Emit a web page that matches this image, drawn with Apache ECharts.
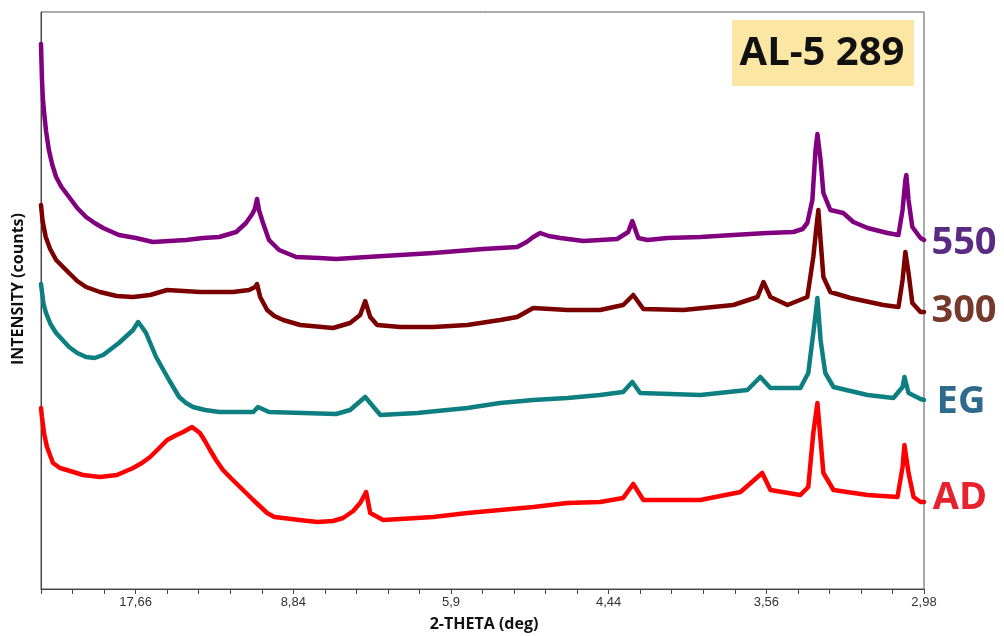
<!DOCTYPE html>
<html>
<head>
<meta charset="utf-8">
<script src="https://cdn.jsdelivr.net/npm/echarts@6/dist/echarts.min.js"></script>
<style>
html,body{margin:0;padding:0;background:#fff;}
#chart{width:1004px;height:636px;}
</style>
</head>
<body>
<div id="chart"></div>
<script>
// 2-theta (deg) positions of the labelled ticks and their d-spacing labels
const majorTicks = [5, 10, 15, 20, 25, 30];
const tickLabels = ['17,66', '8,84', '5,9', '4,44', '3,56', '2,98'];
const seriesNames = ['550', '300', 'EG', 'AD'];

// [2-theta, intensity (arbitrary, offset-stacked)]
const s550 = [[2.00,545],[2.03,510],[2.06,490],[2.10,476],[2.16,458],[2.25,439],[2.36,424],[2.48,412],[2.65,402],[2.89,392],[3.15,381],[3.43,372],[3.70,366],[3.97,361],[4.47,354],[5.01,351],[5.55,347],[6.06,348],[6.60,349],[7.14,351],[7.65,352],[8.19,357],[8.50,366],[8.70,375],[8.78,380],[8.85,390],[8.92,378],[9.04,366],[9.23,349],[9.55,339],[10.09,332],[10.82,331],[11.36,330],[12.34,332],[13.39,334],[14.44,336],[16.02,340],[17.10,342],[17.40,347],[17.61,352],[17.83,356],[18.10,353],[18.47,351],[19.20,348],[19.73,349],[20.27,350],[20.62,357],[20.75,368],[20.80,366],[20.94,351],[21.23,349],[21.86,351],[22.91,352],[23.95,354],[25.03,356],[25.86,357],[26.15,360],[26.30,366],[26.46,389],[26.56,439],[26.62,455],[26.72,429],[26.81,396],[27.03,379],[27.44,376],[27.76,367],[28.21,361],[28.84,356],[29.19,354],[29.32,379],[29.41,409],[29.44,414],[29.51,389],[29.63,362],[29.89,351],[30.00,349]];
const s300 = [[2.00,384],[2.05,368],[2.15,352],[2.29,340],[2.48,329],[2.89,316],[3.15,308],[3.43,302],[3.87,297],[4.40,293],[4.92,292],[5.46,294],[6.00,299],[7.04,297],[8.09,297],[8.60,299],[8.79,302],[8.85,305],[8.95,292],[9.17,279],[9.40,273],[9.68,269],[10.22,264],[11.26,261],[11.80,266],[12.12,274],[12.28,288],[12.44,272],[12.66,264],[13.39,262],[14.44,262],[15.52,264],[16.56,269],[17.10,272],[17.61,281],[18.69,279],[19.73,279],[20.46,284],[20.78,294],[21.10,280],[22.37,279],[23.95,284],[24.72,292],[24.91,307],[25.13,292],[25.67,284],[26.30,292],[26.49,332],[26.59,362],[26.65,379],[26.72,349],[26.81,312],[27.03,297],[27.67,291],[28.71,284],[29.19,282],[29.32,309],[29.41,337],[29.51,316],[29.63,286],[29.89,277],[30.00,277]];
const sEG = [[2.00,305],[2.08,285],[2.16,276],[2.30,265],[2.48,256],[2.89,242],[3.15,236],[3.43,232],[3.70,231],[3.97,234],[4.47,246],[4.92,259],[5.08,267],[5.20,262],[5.33,256],[5.65,232],[6.06,209],[6.38,192],[6.60,186],[6.82,182],[7.20,179],[7.65,177],[8.73,177],[8.88,182],[9.23,177],[10.31,176],[11.36,175],[11.80,179],[12.28,192],[12.76,174],[13.93,176],[15.52,181],[16.56,186],[17.61,189],[18.69,191],[19.73,194],[20.46,197],[20.75,207],[21.00,196],[22.91,194],[24.40,199],[24.81,212],[25.13,201],[26.08,201],[26.33,216],[26.49,256],[26.59,282],[26.62,291],[26.72,249],[26.87,216],[27.13,202],[28.21,194],[29.03,191],[29.32,202],[29.38,212],[29.51,196],[29.89,190],[30.00,189]];
const sAD = [[2.00,181],[2.03,172],[2.10,155],[2.19,142],[2.38,126],[2.60,121],[2.82,119],[3.33,114],[3.87,112],[4.41,114],[4.92,121],[5.20,126],[5.46,132],[5.75,141],[6.00,149],[6.30,154],[6.51,157],[6.79,162],[7.04,156],[7.20,148],[7.36,139],[7.55,129],[7.77,119],[8.05,110],[8.31,102],[8.73,89],[9.17,76],[9.40,72],[9.68,71],[10.20,69],[10.76,67],[11.26,68],[11.58,71],[11.90,78],[12.12,86],[12.31,97],[12.44,76],[12.85,69],[13.39,70],[14.44,72],[15.52,76],[16.56,79],[17.61,82],[18.69,86],[19.73,87],[20.46,91],[20.78,105],[21.10,89],[22.91,89],[24.18,97],[24.87,116],[25.13,99],[26.08,94],[26.33,102],[26.49,156],[26.62,186],[26.72,149],[26.81,116],[27.13,99],[28.21,94],[29.16,92],[29.32,122],[29.38,144],[29.51,116],[29.67,92],[29.89,87],[30.00,87]];

const lineColors = ['#800080', '#7b0000', '#0e7f80', '#ff0000'];
const labelColors = ['#5a2b82', '#763a2c', '#2e6a8a', '#e8222c'];

const chart = echarts.init(document.getElementById('chart'), null, {renderer: 'canvas'});
const dataList = [s550, s300, sEG, sAD];

const option = {
  animation: false,
  backgroundColor: '#ffffff',
  grid: {left: 41, right: 80, top: 12, bottom: 47, show: true, borderColor: '#555', borderWidth: 1, backgroundColor: 'transparent'},
  xAxis: {
    type: 'value', min: 2, max: 30, interval: 1,
    axisLine: {show: true, onZero: false, lineStyle: {color: '#444', width: 1}},
    axisTick: {show: true, length: 5, lineStyle: {color: '#444'}},
    splitLine: {show: false},
    axisLabel: {
      show: true, margin: 7, color: '#333', fontFamily: 'Liberation Sans, Arial, sans-serif', fontSize: 13,
      showMinLabel: true, showMaxLabel: true,
      formatter: function (v) {
        const i = majorTicks.indexOf(Math.round(v));
        return (i >= 0 && Math.abs(v - Math.round(v)) < 1e-6) ? tickLabels[i] : '';
      }
    }
  },
  yAxis: {
    type: 'value', min: 0, max: 577,
    axisLine: {show: true, lineStyle: {color: '#444'}},
    axisTick: {show: false}, axisLabel: {show: false}, splitLine: {show: false}
  },
  series: dataList.map((d, i) => ({
    name: seriesNames[i], type: 'line', data: d, showSymbol: false, symbol: 'none',
    lineStyle: {color: lineColors[i], width: 4.5, join: 'round', cap: 'round'},
    z: 2 + i
  })),
  graphic: [
    {type: 'rect', left: 732, top: 20, shape: {width: 182, height: 66}, style: {fill: '#fbe6a3'}, z: 10},
    {type: 'text', x: 822, y: 54, style: {text: 'AL-5 289', fill: '#111', font: 'bold 40px "Open Sans", sans-serif', textAlign: 'center', textVerticalAlign: 'middle'}, z: 11},
    {type: 'text', x: 964, y: 243, style: {text: seriesNames[0], fill: labelColors[0], font: 'bold 38px "Open Sans", sans-serif', textAlign: 'center', textVerticalAlign: 'middle'}, z: 11},
    {type: 'text', x: 964, y: 311, style: {text: seriesNames[1], fill: labelColors[1], font: 'bold 38px "Open Sans", sans-serif', textAlign: 'center', textVerticalAlign: 'middle'}, z: 11},
    {type: 'text', x: 961, y: 402, style: {text: seriesNames[2], fill: labelColors[2], font: 'bold 38px "Open Sans", sans-serif', textAlign: 'center', textVerticalAlign: 'middle'}, z: 11},
    {type: 'text', x: 960, y: 498, style: {text: seriesNames[3], fill: labelColors[3], font: 'bold 38px "Open Sans", sans-serif', textAlign: 'center', textVerticalAlign: 'middle'}, z: 11},
    {type: 'text', x: 484, y: 624, style: {text: '2-THETA (deg)', fill: '#111', font: 'bold 16px "Open Sans", sans-serif', textAlign: 'center', textVerticalAlign: 'middle'}, z: 11},
    {type: 'text', x: 18, y: 289, rotation: Math.PI / 2, style: {text: 'INTENSITY (counts)', fill: '#111', font: 'bold 16px "Open Sans", sans-serif', textAlign: 'center', textVerticalAlign: 'middle'}, z: 11}
  ]
};
chart.setOption(option);
</script>
</body>
</html>
